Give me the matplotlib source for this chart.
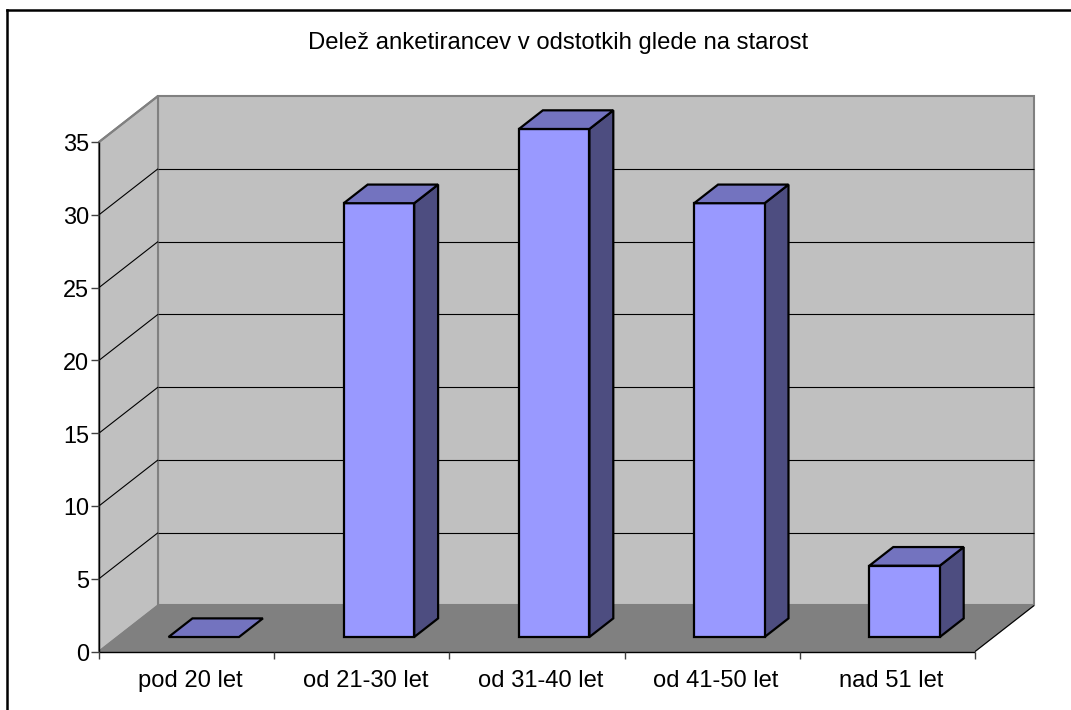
import matplotlib
matplotlib.use('Agg')
import matplotlib.pyplot as plt
from matplotlib.patches import Polygon

categories = ['pod 20 let', 'od 21-30 let', 'od 31-40 let', 'od 41-50 let', 'nad 51 let']
shares = [0, 29.8, 34.9, 29.8, 4.9]
y_ticks = [0, 5, 10, 15, 20, 25, 30, 35]
title = 'Delež anketirancev v odstotkih glede na starost'

W, H = 1071, 710
YMAX = 35

plt.rcParams['font.family'] = ['Liberation Sans', 'DejaVu Sans']

fig = plt.figure(figsize=(W / 100, H / 100), dpi=100, facecolor='white')
# axes cover the front plane of the box, everything else hangs off it
ax = fig.add_axes([99 / W, 1 - 651.5 / H, 876 / W, 509.5 / H])
ax.set_xlim(0, len(categories))
ax.set_ylim(0, YMAX)
ax.axis('off')

# depth of the box, in data units
DEPTH_X = 59 / 175.2
DEPTH_Y = 46 / 14.557


def pt(x, y, d=0.0):
    return (x + d * DEPTH_X, y + d * DEPTH_Y)


def face(points, color, ec, lw, z):
    ax.add_patch(Polygon(points, closed=True, fc=color, ec=ec, lw=lw, zorder=z,
                         clip_on=False, joinstyle='miter'))


def line(a, b, color, lw, z):
    ax.plot([a[0], b[0]], [a[1], b[1]], color=color, lw=lw, zorder=z,
            clip_on=False, solid_capstyle='butt')


n = len(categories)
GREY = '#c0c0c0'
EDGE = '#808080'

# walls and floor
face([pt(0, 0, 1), pt(n, 0, 1), pt(n, YMAX, 1), pt(0, YMAX, 1)], GREY, EDGE, 1.5, 1)
face([pt(0, 0), pt(0, 0, 1), pt(0, YMAX, 1), pt(0, YMAX)], GREY, EDGE, 1.5, 1)
face([pt(0, 0), pt(n, 0), pt(n, 0, 1), pt(0, 0, 1)], '#808080', EDGE, 1.0, 2)

# gridlines run along the side wall and across the back wall
for t in y_ticks[1:-1]:
    line(pt(0, t), pt(0, t, 1), 'black', 0.8, 3)
    line(pt(0, t, 1), pt(n, t, 1), 'black', 0.8, 3)

# value axis, category axis and their ticks
line(pt(0, 0), pt(0, YMAX), 'black', 1.0, 4)
line(pt(0, 0), pt(n, 0), 'black', 1.0, 4)
line(pt(0, 0), pt(n, 0, 1), EDGE, 1.0, 2)
line(pt(0, YMAX), pt(0, YMAX, 1), EDGE, 1.5, 4)
line(pt(n, 0), pt(n, 0, 1), 'black', 0.8, 4)

TICK_X = 8 / 175.2
TICK_Y = 7 / 14.557
for t in y_ticks:
    line((-TICK_X, t), (0, t), '#404040', 1.0, 4)
    ax.text(-10 / 175.2, t - 0.2, str(t), ha='right', va='center', fontsize=16.9,
            color='black', clip_on=False)
for i in range(n + 1):
    line((i, 0), (i, -TICK_Y), '#404040', 1.0, 4)
for i, c in enumerate(categories):
    ax.text(i + 0.52, -2.0, c, ha='center', va='center', fontsize=17.1, color='black',
            clip_on=False)

# bars sit in the middle of the depth
BAR_W = 0.402
D0, D1 = 0.315, 0.72
for i, v in enumerate(shares):
    l = i + 0.5 - BAR_W / 2 - 0.008
    r = l + BAR_W
    z = 5 + i
    if v > 0:
        face([pt(r, 0, D0), pt(r, 0, D1), pt(r, v, D1), pt(r, v, D0)], '#4d4d80', 'black', 1.6, z)
        face([pt(l, 0, D0), pt(r, 0, D0), pt(r, v, D0), pt(l, v, D0)], '#9999ff', 'black', 1.6, z)
    face([pt(l, v, D0), pt(r, v, D0), pt(r, v, D1), pt(l, v, D1)], '#7373bf', 'black', 1.6, z)

fig.text(558.5 / W, 1 - 42.5 / H, title, ha='center', va='center', fontsize=17.2, color='black')

# outer frame, open at the right and bottom
for xs, ys in [((7, W), (10, 10)), ((7, 7), (10, H))]:
    fig.add_artist(plt.Line2D([x / W for x in xs], [1 - y / H for y in ys], color='black', lw=1.8))

fig.savefig('out.png', dpi=100)
